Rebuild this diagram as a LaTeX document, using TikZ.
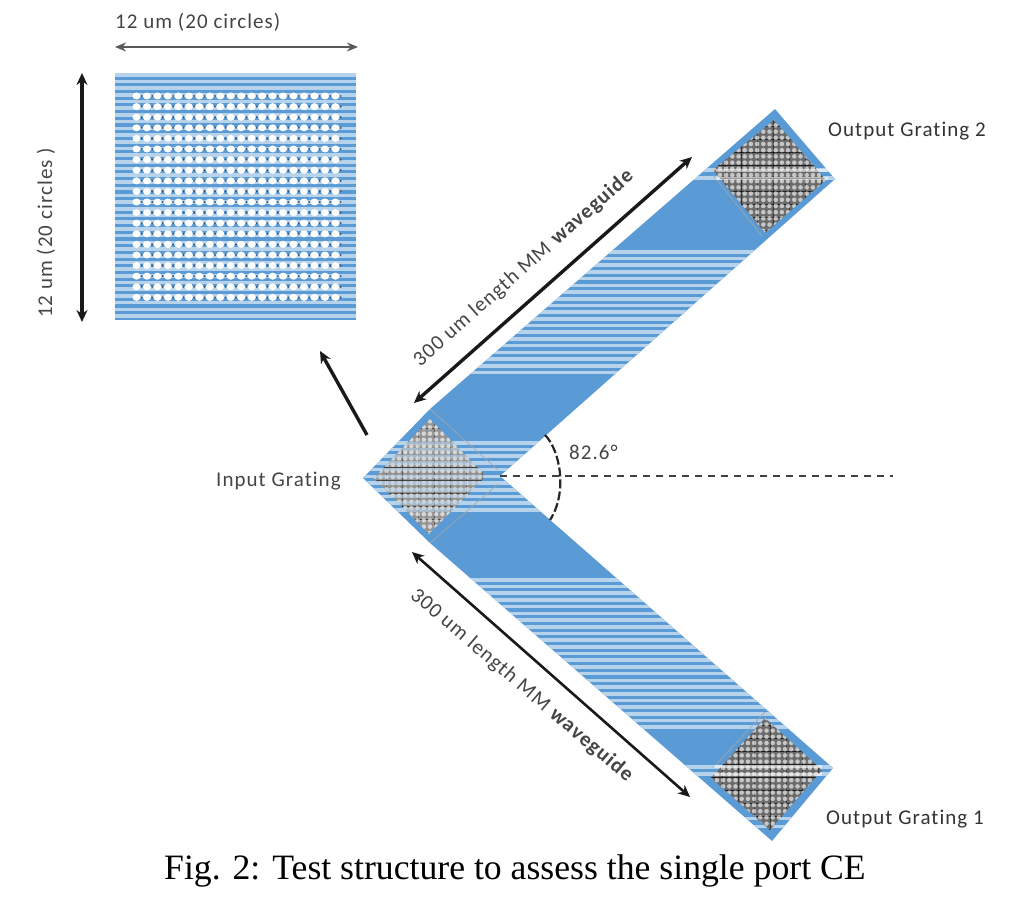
\documentclass[tikz,border=0pt]{standalone}
\usepackage{fontspec}
\setmainfont[LetterSpace=5,Ligatures={NoCommon}]{Carlito}
\newfontfamily\capfont{Liberation Serif}
\usetikzlibrary{arrows.meta,calc}
\definecolor{wgblue}{HTML}{5B9BD5}
\definecolor{wglight}{HTML}{B7D2EB}
\definecolor{inktext}{HTML}{454545}
\tikzset{
  lab/.style={text=inktext,inner sep=0pt,font=\fontsize{21}{25}\selectfont},
  dim/.style={draw=black!90,line width=3.4pt,{Stealth[length=12pt,width=11pt]}-{Stealth[length=12pt,width=11pt]}},
  thindim/.style={draw=black!65,line width=2.2pt,{Stealth[length=11pt,width=9pt]}-{Stealth[length=11pt,width=9pt]}},
  ghost/.style={draw=black!35,line width=0.6pt}
}
% horizontal stripes: from y #1 to y #2, period 6.7
\newcommand{\stripes}[2]{%
  \pgfmathsetmacro{\ystep}{#1+6.7}
  \foreach \yy in {#1,\ystep,...,#2} {\fill[wglight] (0,\yy) rectangle (1017,\yy+3.6);}}
% diamond grating: left, top, right, bottom, shade, dark-line opacity
\newcommand{\grating}[6]{%
  \begin{scope}
    \clip (#1) -- (#2) -- (#3) -- (#4) -- cycle;
    \fill[black!#5] (#1) -- (#2) -- (#3) -- (#4) -- cycle;
    \coordinate (gc) at ($(#1)!.5!(#3)$);
    \foreach \v in {-4,...,4} {
      \draw[black,opacity=#6,line width=.9pt] ($(gc)+(-70,\v*13+3)$) -- ++(140,0);
      \draw[black,opacity=#6*0.7,line width=.6pt] ($(gc)+(\v*16+4,-70)$) -- ++(0,140);
    }
    \foreach \u in {-10,...,10} \foreach \v in {-10,...,10} {
      \fill[white,opacity=.62] ($(gc)+(\u*6.2,\v*6.2)$) circle (2.3);
    }
  \end{scope}}
\begin{document}
\begin{tikzpicture}[x=1pt,y=-1pt]
\useasboundingbox (0,0) rectangle (1017,912);
% ---- named points
\coordinate (tipL) at (363,478);
\coordinate (inTop) at (430,409);
\coordinate (inBot) at (430,543);
\coordinate (vee) at (500,476);
\coordinate (o2Top) at (775,109);
\coordinate (o2Right) at (835,179);
\coordinate (o1Right) at (833,768);
\coordinate (o1Bot) at (772,841);
% ---- waveguide
\begin{scope}
  \clip (tipL) -- (inTop) -- (o2Top) -- (o2Right) -- (vee) -- (o1Right) -- (o1Bot) -- (inBot) -- cycle;
  \fill[wgblue] (0,0) rectangle (1017,912);
  \stripes{441}{513}
  \stripes{250}{372}
  \stripes{578}{732}
  \fill[wglight] (0,168) rectangle (1017,172);
  \fill[wglight] (0,176) rectangle (1017,180);
  \fill[wglight] (0,765) rectangle (1017,769);
  \fill[wglight] (0,772) rectangle (1017,776);
  \fill[wglight] (0,817) rectangle (1017,820);
  \fill[wglight] (0,825) rectangle (1017,828);
\end{scope}
\draw[ghost] (inTop) -- (498,470) (inBot) -- (498,484);
\draw[ghost] (713,175) -- (762,236);
\draw[ghost] (765,712) -- (713,768);
% ---- gratings
\coordinate (aL) at (374,478); \coordinate (aT) at (430,419);
\coordinate (aR) at (486,476); \coordinate (aB) at (429,534);
\coordinate (bL) at (713,170); \coordinate (bT) at (774,120);
\coordinate (bR) at (826,180); \coordinate (bB) at (765,233);
\coordinate (cL) at (711,778); \coordinate (cT) at (765,718);
\coordinate (cR) at (822,770); \coordinate (cB) at (770,830);
\grating{aL}{aT}{aR}{aB}{42}{.55}
\grating{bL}{bT}{bR}{bB}{58}{.7}
\grating{cL}{cT}{cR}{cB}{58}{.7}
\begin{scope}
  \clip (aL) -- (aT) -- (aR) -- (aB) -- cycle;
  \begin{scope}[opacity=.6]
    \stripes{441}{513}
  \end{scope}
\end{scope}
\fill[white,opacity=.55] (716,169) rectangle (828,172);
\fill[white,opacity=.55] (716,177) rectangle (828,180);
\fill[white,opacity=.55] (714,765) rectangle (822,768);
\fill[white,opacity=.55] (714,773) rectangle (822,776);
% ---- inset rectangle
\begin{scope}
  \clip (115,73) rectangle (356,320);
  \fill[wgblue] (115,73) rectangle (356,320);
  \stripes{73}{320}
\end{scope}
\foreach \c in {0,...,19} \foreach \r in {0,...,19} {
  \fill[black!45!wgblue] ({141.7+\c*10.47},{96+\r*10.6}) circle (1.1);
  \fill[white] ({136.5+\c*10.47},{96+\r*10.6}) ellipse (4 and 3.5);
}
% ---- dimension arrows
\coordinate (hA) at (115,47); \coordinate (hB) at (358,47);
\coordinate (vA) at (82,73); \coordinate (vB) at (82,322);
\coordinate (uA) at (414,403); \coordinate (uB) at (692,157);
\coordinate (lA) at (412,552); \coordinate (lB) at (690,797);
\coordinate (sA) at (367,435); \coordinate (sB) at (320,351);
\draw[thindim] (hA) -- (hB);
\draw[dim,line width=4pt] (vA) -- (vB);
\draw[dim] (uA) -- (uB);
\draw[dim,line width=2.6pt] (lA) -- (lB);
\draw[line width=3.4pt,draw=black!90,-{Stealth[length=12pt,width=11pt]}] (sA) -- (sB);
% ---- angle
\coordinate (dashEnd) at (893,476);
\coordinate (arcA) at (545,435); \coordinate (arcB) at (550,520);
\draw[black!75,line width=1.4pt,dash pattern=on 7pt off 6pt] (vee) -- (dashEnd);
\draw[black!85,line width=2.2pt,dash pattern=on 9pt off 3pt] (arcA) .. controls (560,450) and (568,492) .. (arcB);
% ---- labels
\node[lab,anchor=west] (t1) at (115,22) {12 um (20 circles)};
\node[lab,rotate=90] (t2) at (46,233) {12 um (20 circles )};
\node[lab,anchor=west] (t3) at (216,481) {Input Grating};
\node[lab,anchor=west] (t4) at (569,452) {82.6\textdegree};
\node[lab,anchor=west,text=black!80] (t5) at (828,131) {Output Grating 2};
\node[lab,anchor=west,text=black!80] (t6) at (826,819) {Output Grating 1};
\node[lab,rotate=41.5] (t7) at (524,268) {300 um length MM \textbf{waveguide}};
\node[lab,rotate=-40.5] (t8) at (522,686) {300 um length MM \textbf{waveguide}};
\node[inner sep=0pt,anchor=west,text=black,font=\capfont\fontsize{35.7}{40}\selectfont] (cap) at (164,871) {Fig. 2: Test structure to assess the single port CE};
\end{tikzpicture}
\end{document}
